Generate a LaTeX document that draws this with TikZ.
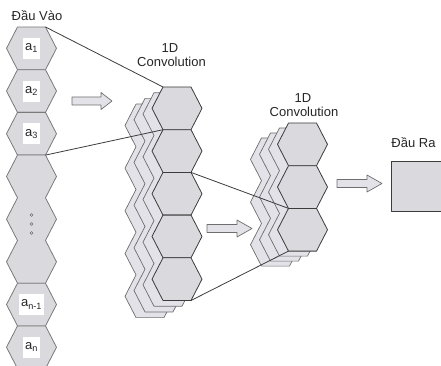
\documentclass[tikz,border=0pt]{standalone}
\usepackage{fontspec}
\setmainfont{Liberation Sans}
\definecolor{hexfill}{HTML}{D9D9DE}
\definecolor{backfill}{HTML}{E2E2E8}
\definecolor{ingray}{HTML}{7A7A7A}
\definecolor{frontgray}{HTML}{3C3C3C}
\definecolor{backgray}{HTML}{6E6E6E}
\definecolor{txt}{HTML}{262626}
\def\hh{42.7}
% column of n stacked hexagons (outline only): centre x, top y, rows, style
\newcommand\hexcolumn[4]{%
  \path[#4] ({#1-14},#2)
    \foreach \hexrow in {1,...,#3}{ -- ({#1-25},{#2+(\hexrow-0.5)*\hh}) -- ({#1-14},{#2+\hexrow*\hh}) }
    -- ({#1+14},{#2+#3*\hh})
    \foreach \hexrow in {#3,...,1}{ -- ({#1+25},{#2+(\hexrow-0.5)*\hh}) -- ({#1+14},{#2+(\hexrow-1)*\hh}) }
    -- cycle;}
% hollow block arrow: tail x, head start x, tip x, centre y
\newcommand\blockarrow[4]{%
  \path[blockarrow] (#1,{#4-4}) -- (#2,{#4-4}) -- (#2,{#4-8.5}) -- (#3,#4)
    -- (#2,{#4+8.5}) -- (#2,{#4+4}) -- (#1,{#4+4}) -- cycle;}
\begin{document}
\begin{tikzpicture}[x=1pt,y=-1pt,line join=round,
  font=\fontsize{13}{14}\selectfont, text=txt,
  inhex/.style={fill=hexfill,draw=ingray,line width=0.8pt},
  fronthex/.style={fill=hexfill,draw=frontgray,line width=0.8pt},
  backhex/.style={fill=backfill,draw=backgray,line width=0.7pt},
  blockarrow/.style={fill=backfill,draw=backgray,line width=0.7pt},
  tag/.style={fill=white,inner xsep=2.5pt,inner ysep=0pt,minimum height=21pt},
  link/.style={draw=frontgray,line width=0.8pt},
  title/.style={inner sep=0pt}]
\useasboundingbox (0,0) rectangle (441,366);

% input sequence
\hexcolumn{31.5}{27}{1}{inhex}
\hexcolumn{31.5}{27+\hh}{1}{inhex}
\hexcolumn{31.5}{27+2*\hh}{1}{inhex}
\hexcolumn{31.5}{27+3*\hh}{3}{inhex}
\hexcolumn{31.5}{27+6*\hh}{1}{inhex}
\hexcolumn{31.5}{27+7*\hh}{1}{inhex}
\node[tag] (a1) at (31.5,{27+0.5*\hh}) {a\textsubscript{1}};
\node[tag] (a2) at (31.5,{27+1.5*\hh}) {a\textsubscript{2}};
\node[tag] (a3) at (31.5,{27+2.5*\hh}) {a\textsubscript{3}};
\node[tag] (an1) at (31.5,{27+6.5*\hh}) {a\textsubscript{n-1}};
\node[tag] (an) at (31.5,{27+7.5*\hh}) {a\textsubscript{n}};
\foreach \y in {215,224,233}{
  \draw[draw=backgray,line width=0.5pt] (31.5,\y) circle (1.4pt);}

% first convolution: three feature maps behind, one in front
\foreach \layer in {3,2,1}{
  \hexcolumn{177-9*\layer}{87+5.7*\layer}{5}{backhex}}
\foreach \row in {0,...,4}{
  \hexcolumn{177}{87+\row*\hh}{1}{fronthex}}

% second convolution
\foreach \layer in {3,2,1}{
  \hexcolumn{302.5-9*\layer}{123+5*\layer}{3}{backhex}}
\foreach \row in {0,...,2}{
  \hexcolumn{302.5}{123+\row*\hh}{1}{fronthex}}

% output
\node[draw=frontgray,fill=hexfill,line width=0.8pt,minimum width=52pt,minimum height=50pt,
  inner sep=0pt] (out) at (417,186) {};

% block arrows between stages
\blockarrow{72}{101}{112}{101}
\blockarrow{207}{237}{252}{228.5}
\blockarrow{337}{367}{382}{183.5}

% receptive-field lines
\coordinate (inA) at (45.5,27);
\coordinate (inB) at (45.5,{27+3*\hh});
\coordinate (cA) at (163,87);
\coordinate (cB) at (163,{87+\hh});
\coordinate (cC) at (191,{87+2*\hh});
\coordinate (cD) at (191,{87+5*\hh});
\coordinate (dA) at (288.5,{123+2*\hh});
\coordinate (dB) at (288.5,{123+3*\hh});
\draw[link] (inA) -- (cA);
\draw[link] (inB) -- (cB);
\draw[link] (cC) -- (dA);
\draw[link] (cD) -- (dB);

% stage titles
\node[title] (inlabel) at (37,16) {Đầu Vào};
\node[title] (conv1a) at (170,48) {1D};
\node[title] (conv1b) at (171.5,62) {Convolution};
\node[title] (conv2a) at (303,98) {1D};
\node[title] (conv2b) at (304,111.5) {Convolution};
\node[title] (outlabel) at (413.5,143) {Đầu Ra};
\end{tikzpicture}
\end{document}
